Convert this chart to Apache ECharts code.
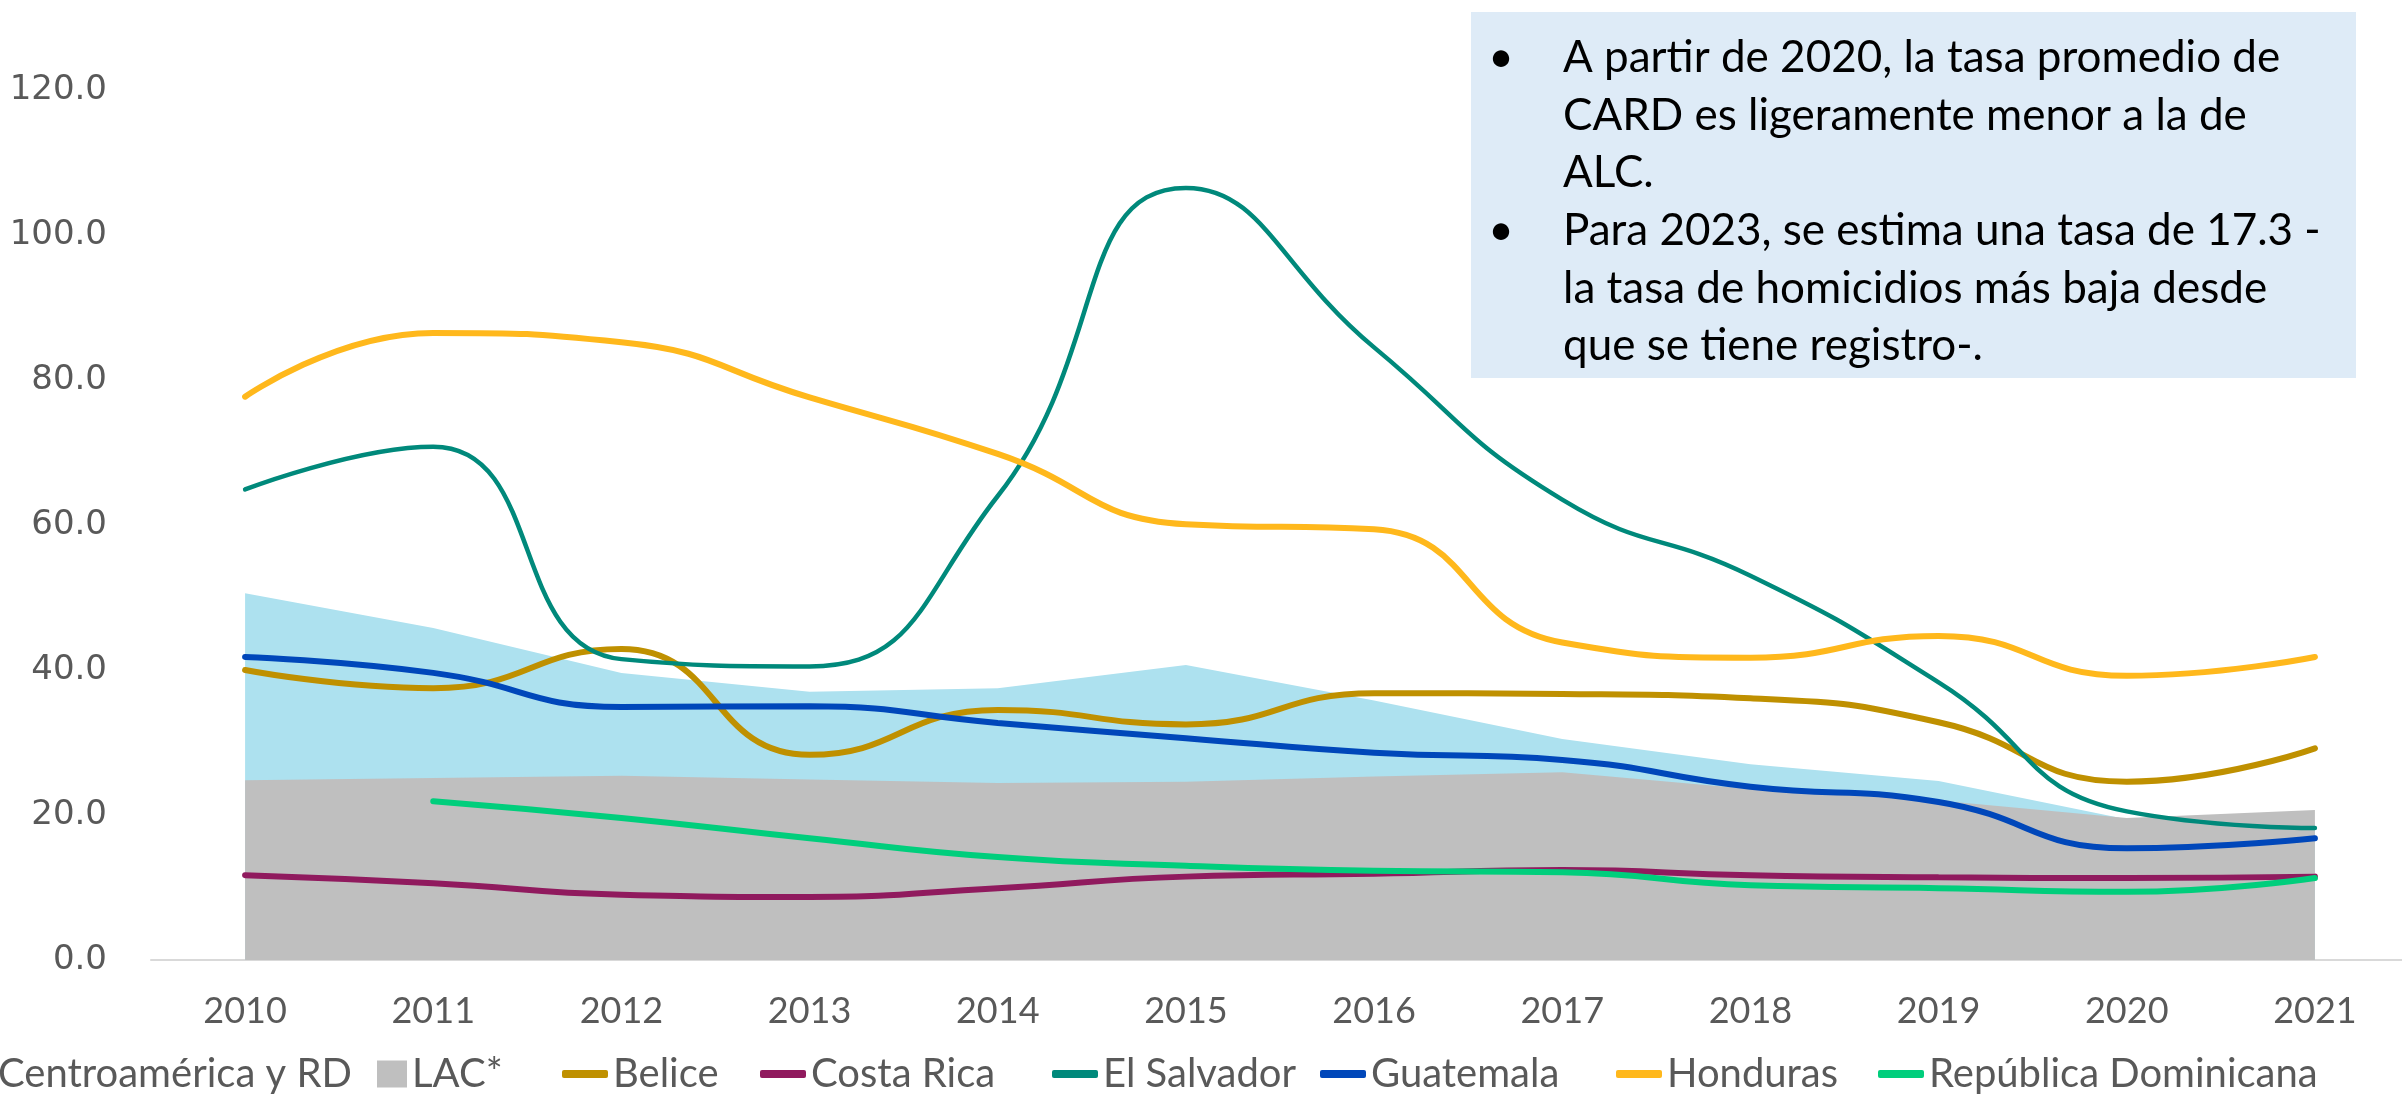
<!DOCTYPE html>
<html>
<head>
<meta charset="utf-8">
<script src="https://cdn.jsdelivr.net/npm/echarts@6/dist/echarts.min.js"></script>
<style>
  html, body { margin: 0; padding: 0; background: #fff; }
  #chart { width: 2402px; height: 1096px; }
</style>
</head>
<body>
<div id="chart"></div>
<script>
// tasa de homicidios por 100 mil habitantes
var years = ['2010','2011','2012','2013','2014','2015','2016','2017','2018','2019','2020','2021'];
var card       = [50.6, 45.8, 39.6, 37.0, 37.5, 40.7, 35.8, 30.5, 27.0, 24.7, 19.4, 19.0];
var lac        = [24.8, 25.1, 25.4, 24.9, 24.4, 24.6, 25.3, 25.9, 23.6, 22.0, 19.6, 20.7];
var belice     = [40.0, 37.5, 42.9, 28.3, 34.5, 32.5, 36.8, 36.7, 36.1, 32.8, 24.6, 29.2];
var costaRica  = [11.7, 10.6, 9.0, 8.7, 9.9, 11.5, 11.9, 12.4, 11.7, 11.4, 11.3, 11.5];
var elSalvador = [64.9, 70.8, 41.5, 40.5, 64.0, 106.5, 84.5, 63.5, 53.0, 38.3, 20.5, 18.2];
var guatemala  = [41.8, 39.6, 34.9, 35.0, 32.7, 30.6, 28.6, 27.6, 23.9, 21.8, 15.4, 16.8];
var honduras   = [77.7, 86.5, 85.2, 77.6, 69.8, 60.1, 59.4, 43.8, 41.7, 44.7, 39.2, 41.8];
var domRep     = [null, 21.9, 19.6, 16.8, 14.2, 13.0, 12.3, 12.1, 10.3, 9.9, 9.4, 11.3];

var noteLines = [
  'A partir de 2020, la tasa promedio de',
  'CARD es ligeramente menor a la de',
  'ALC.',
  'Para 2023, se estima una tasa de 17.3 -',
  'la tasa de homicidios más baja desde',
  'que se tiene registro-.'
];
var bulletLines = [0, 3];

var gris = '#595959';

var chart = echarts.init(document.getElementById('chart'));

function areaSerie(name, data, color) {
  return {
    name: name, type: 'line', data: data,
    symbol: 'none', smooth: false,
    lineStyle: { width: 0 },
    itemStyle: { color: color },
    areaStyle: { color: color, opacity: 1 }
  };
}
function lineSerie(name, data, color, w) {
  return {
    name: name, type: 'line', data: data,
    symbol: 'none', smooth: 0.5,
    connectNulls: false,
    itemStyle: { color: color },
    lineStyle: { color: color, width: w, cap: 'round' }
  };
}

// leyenda: una por elemento para fijar posiciones como en el original
var legendItems = [
  { name: 'Centroamérica y RD', left: -37, area: true },
  { name: 'LAC*', left: 377, area: true },
  { name: 'Belice', left: 562 },
  { name: 'Costa Rica', left: 760 },
  { name: 'El Salvador', left: 1052 },
  { name: 'Guatemala', left: 1320 },
  { name: 'Honduras', left: 1616 },
  { name: 'República Dominicana', left: 1878 }
];
var legends = legendItems.map(function (it) {
  return {
    data: [{ name: it.name, icon: it.area ? 'rect' : 'roundRect' }],
    left: it.left, top: 1054, padding: 0,
    itemWidth: it.area ? 30 : 46,
    itemHeight: it.area ? 27 : 8,
    itemGap: 0, textGap: 3,
    selectedMode: false,
    textStyle: { fontFamily: 'Lato', fontSize: 40, color: gris }
  };
});

var graphics = [{
  type: 'rect',
  shape: { x: 1471, y: 12, width: 885, height: 366 },
  style: { fill: '#DEEBF7' }
}];
noteLines.forEach(function (t, i) {
  var y = 58 + i * 57.6;
  if (bulletLines.indexOf(i) >= 0) {
    graphics.push({
      type: 'text',
      style: { text: '•', x: 1501, y: y, align: 'center', verticalAlign: 'middle',
               font: '44px Lato', fill: '#000' }
    });
  }
  graphics.push({
    type: 'text',
    style: { text: t, x: 1563, y: y, verticalAlign: 'middle',
             font: '44px Lato', fill: '#000' }
  });
});

var option = {
  backgroundColor: '#fff',
  animation: false,
  grid: { left: 151, width: 2258, top: 90, bottom: 136, containLabel: false, outerBoundsMode: 'none' },
  legend: legends,
  xAxis: {
    type: 'category',
    data: years,
    boundaryGap: true,
    axisLine: { lineStyle: { color: '#D9D9D9', width: 2 } },
    axisTick: { show: false },
    axisLabel: { color: gris, fontFamily: 'Lato', fontSize: 36, margin: 33 }
  },
  yAxis: {
    type: 'value',
    min: 0, max: 120, interval: 20,
    axisLine: { show: false },
    axisTick: { show: false },
    splitLine: { show: false },
    axisLabel: {
      color: gris, fontFamily: 'DejaVu Sans', fontSize: 34, margin: 44,
      formatter: function (v) { return v.toFixed(1); }
    }
  },
  series: [
    areaSerie('Centroamérica y RD', card, '#ADE1EF'),
    areaSerie('LAC*', lac, '#BFBFBF'),
    lineSerie('Belice', belice, '#BF9000', 6),
    lineSerie('Costa Rica', costaRica, '#901A5E', 6),
    lineSerie('El Salvador', elSalvador, '#00897B', 4.5),
    lineSerie('Guatemala', guatemala, '#0047BA', 6),
    lineSerie('Honduras', honduras, '#FFB81C', 6),
    lineSerie('República Dominicana', domRep, '#00CE7C', 6)
  ],
  graphic: graphics
};
chart.setOption(option);
</script>
</body>
</html>
